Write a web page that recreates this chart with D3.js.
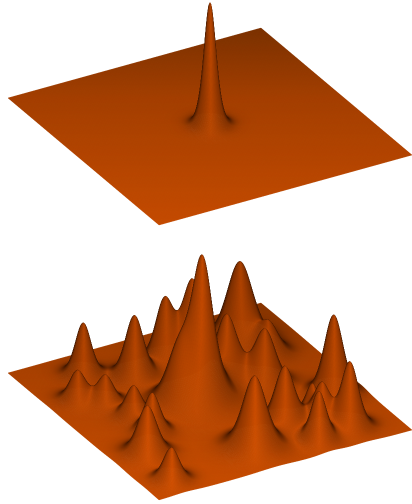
<!DOCTYPE html>
<html>
<head>
<meta charset="utf-8">
<style>
  html, body { margin: 0; padding: 0; background: #fff; }
  canvas { display: block; width: 412px; height: 504px; filter: blur(0.4px); }
</style>
<script src="https://cdn.jsdelivr.net/npm/d3@7"></script>
</head>
<body>
<script>
// Peaks: position on the unit plane, height, spread.
var spikeU = [0.5, 0.5];
var spikeV = [0.5, 0.5];
var spikeHeight = [115, 9];
var spikeSpread = [0.027, 0.045];

var peakU = [0.141, 0.237, 0.197, 0.497, 0.497, 0.237, 0.203, 0.321, 0.498, 0.417, 0.664, 0.890,
             0.850, 0.767, 0.915, 0.823, 0.753, 0.280, 0.343, 0.472, 0.469, 0.597, 0.714, 0.907];
var peakV = [0.213, 0.358, 0.501, 0.472, 0.472, 0.588, 0.795, 0.839, 0.718, 0.615, 0.891, 0.820,
             0.467, 0.636, 0.682, 0.749, 0.752, 0.107, 0.180, 0.214, 0.393, 0.213, 0.124, 0.104];
var peakHeight = [53, 62, 61, 118, 22, 80, 81, 29, 55, 64, 80, 66,
                  72, 59, 49, 39, 27, 30, 28, 31, 45, 40, 49, 33];
var peakSpread = [0.037, 0.042, 0.042, 0.046, 0.100, 0.046, 0.060, 0.046, 0.050, 0.050, 0.044, 0.040,
                  0.055, 0.046, 0.036, 0.038, 0.028, 0.038, 0.038, 0.038, 0.055, 0.038, 0.046, 0.038];

var width = 412, height = 504, grid = 300, sample = 2;

var canvas = d3.select("body").append("canvas")
    .attr("width", width * sample)
    .attr("height", height * sample);
var ctx = canvas.node().getContext("2d");
ctx.scale(sample, sample);
ctx.fillStyle = "#fff";
ctx.fillRect(0, 0, width, height);

// Axonometric axes of the plane, in pixels.
var uX = d3.scaleLinear().domain([0, 1]).range([0, 151]);
var uY = d3.scaleLinear().domain([0, 1]).range([0, 127]);
var vX = d3.scaleLinear().domain([0, 1]).range([0, 253]);
var vY = d3.scaleLinear().domain([0, 1]).range([0, -70]);
var zY = d3.scaleLinear().domain([0, 150]).range([0, -150]);

var zUnit = 257;                       // pixels per plane unit upward
var sinE = 0.49, cosE = 0.871;
var dirU = 0.876, dirV = -0.483;       // plane direction that runs down the screen
var acrossU = 0.511, acrossV = 0.86;   // plane direction that runs across the screen
var view = [cosE * dirU, cosE * dirV, sinE];

var tone = d3.scaleLinear().domain([0, 0.42, 1.18]).range(["#7a3000", "#a33e00", "#c44a00"]).clamp(true);
var facing = d3.scaleLinear().domain([0.02, 0.12, 0.49, 1]).range([0.35, 0.55, 1, 1.06]).clamp(true);
var sideways = d3.scaleLinear().domain([0, 1]).range([1, 0.72]).clamp(true);

var polygon = d3.line().context(ctx);

function drawSurface(originX, originY, us, vs, hs, ss, lift) {
  var step = 1 / grid;
  var z = d3.range(grid + 3).map(function(i) {
    var u = (i - 1) * step;
    return d3.range(grid + 3).map(function(j) {
      var v = (j - 1) * step, sum = 0;
      hs.forEach(function(h, k) {
        var du = u - us[k], dv = v - vs[k];
        var c = Math.cosh(Math.sqrt(du * du + dv * dv) / ss[k]);
        sum += h / (c * c);
      });
      return sum;
    });
  });

  function project(i, j) {
    var u = i * step, v = j * step;
    return [originX + uX(u) + vX(v), originY + uY(u) + vY(v) + zY(z[i + 1][j + 1])];
  }

  // back to front: far corner is u = 0, v = 1
  for (var i = 0; i < grid; i++) {
    for (var j = grid - 1; j >= 0; j--) {
      var zc = z[i + 1][j + 1] / zUnit;
      var mu = (z[i + 2][j + 1] - z[i][j + 1]) / zUnit / (2 * step);
      var mv = (z[i + 1][j + 2] - z[i + 1][j]) / zUnit / (2 * step);
      var len = Math.sqrt(mu * mu + mv * mv + 1);
      var lit = (-mu * view[0] - mv * view[1] + view[2]) / len;
      var side = Math.abs(mu * acrossU + mv * acrossV) / len;
      var u = i * step, v = j * step;
      var depth = (u * dirU + v * dirV + 0.483) * cosE + zc * sinE + lift;
      var c = d3.rgb(tone(depth));
      var f = facing(lit) * sideways(side);
      var colour = "rgb(" + Math.min(255, c.r * f) + "," + Math.min(255, c.g * f) + "," + c.b * f + ")";
      ctx.beginPath();
      polygon([project(i, j), project(i + 1, j), project(i + 1, j + 1), project(i, j + 1)]);
      ctx.closePath();
      ctx.fillStyle = colour;
      ctx.strokeStyle = colour;
      ctx.lineWidth = 0.4;
      ctx.fill();
      ctx.stroke();
    }
  }
}

drawSurface(8, 98, spikeU, spikeV, spikeHeight, spikeSpread, 0);
drawSurface(8, 373, peakU, peakV, peakHeight, peakSpread, 0.12);
</script>
</body>
</html>
